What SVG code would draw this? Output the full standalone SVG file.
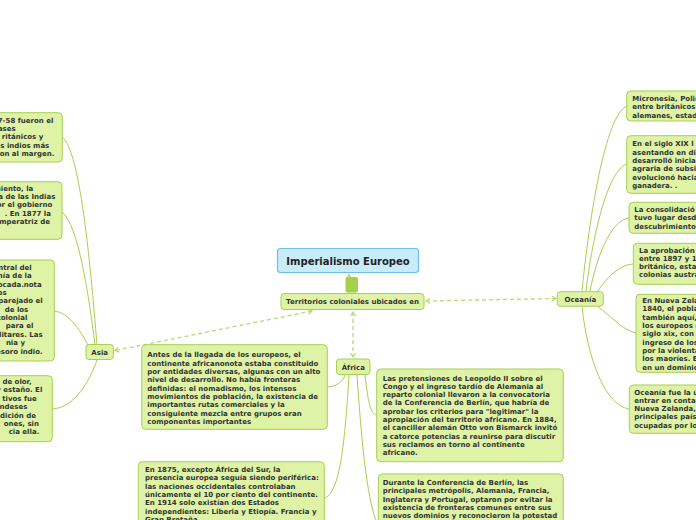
<svg xmlns="http://www.w3.org/2000/svg" width="696" height="520" viewBox="0 0 696 520">
<defs>
<style>
.box{fill:#def3a6;stroke:#a8cf50;stroke-width:1}
.t{font-family:"DejaVu Sans",Verdana,sans-serif;font-weight:bold;font-size:7px;fill:#333}
.tc{font-family:"DejaVu Sans",Verdana,sans-serif;font-weight:bold;font-size:7px;fill:#333;text-anchor:middle}
.te{font-family:"DejaVu Sans",Verdana,sans-serif;font-weight:bold;font-size:7px;fill:#333;text-anchor:end}
.c{fill:none;stroke:#a8cf50;stroke-width:1}
.d{fill:none;stroke:#b8db72;stroke-width:1.3;stroke-dasharray:4 3;marker-start:url(#ch);marker-end:url(#ch)}
</style>
<marker id="ch" viewBox="0 0 6 6" refX="5" refY="3" markerWidth="6" markerHeight="6" markerUnits="userSpaceOnUse" orient="auto-start-reverse">
<path d="M1,0.5 L5,3 L1,5.5" fill="none" stroke="#b8db72" stroke-width="1.2"/>
</marker>
</defs>
<rect width="696" height="520" fill="#ffffff"/>

<g id="connectors">
<path class="d" d="M312,311 L115,350.5"/>
<path class="d" d="M353,312 L353,357"/>
<path class="d" d="M426,301 L556,298.5"/>
<path d="M349,293 L349,274.5" fill="none" stroke="#b8db72" stroke-width="1.3" marker-end="url(#ch)"/>
<path class="c" d="M97,345 C90,260 80,150 62,137"/>
<path class="c" d="M95,345 C88,290 78,225 62,212"/>
<path class="c" d="M88,345 C80,330 68,312 54,311"/>
<path class="c" d="M97,360 C90,380 75,408 52,409"/>
<path class="c" d="M345,375 C343,382 335,387 327,387"/>
<path class="c" d="M349,375 C345,440 340,495 324,498"/>
<path class="c" d="M365,375 C368,400 370,415 377,415"/>
<path class="c" d="M357,375 C362,450 368,505 378,525"/>
<path class="c" d="M582,291 C589,220 605,115 627,106"/>
<path class="c" d="M586,291 C592,240 607,170 627,164"/>
<path class="c" d="M590,291 C596,260 610,220 629,218"/>
<path class="c" d="M598,291 C605,280 618,265 633,264"/>
<path class="c" d="M598,307 C610,315 622,330 636,333"/>
<path class="c" d="M582,307 C588,360 605,405 629,409"/>
</g>

<g id="main">
<rect x="277.5" y="248.5" width="141" height="24" rx="3" fill="#c9ecfb" stroke="#6cc0e8" stroke-width="1.2"/>
<text x="348" y="265" font-family="DejaVu Sans,Verdana,sans-serif" font-weight="bold" font-size="10" fill="#222" text-anchor="middle">Imperialismo Europeo</text>
</g>
<g id="handle">
<rect x="345.5" y="277" width="12.5" height="15.5" rx="2" fill="#a6cf4c"/>
</g>

<g id="territorios">
<rect class="box" x="281" y="293.5" width="143" height="16" rx="3"/>
<text class="tc" x="352.5" y="304.3">Territorios coloniales ubicados en</text>
</g>

<g id="asia">
<rect class="box" x="86" y="344.5" width="27.3" height="15" rx="3"/>
<text class="tc" x="99.7" y="354.7">Asia</text>
</g>

<g id="africa">
<rect class="box" x="336.5" y="359" width="33.5" height="15.5" rx="3"/>
<text class="tc" x="353.3" y="369.7">África</text>
</g>

<g id="oceania">
<rect class="box" x="557.3" y="291.7" width="46" height="14.5" rx="3"/>
<text class="tc" x="580.3" y="301.5">Oceanía</text>
</g>

<g id="asia1">
<rect class="box" x="-20" y="112.7" width="82.3" height="49.3" rx="4"/>
<text class="te" y="122.7"><tspan x="53.3">7-58 fueron el</tspan><tspan x="15.7" y="131">ases</tspan><tspan x="43.3" y="139.3">ritánicos y</tspan><tspan x="49.3" y="147.6">s indios más</tspan><tspan x="54.3" y="156">on al margen.</tspan></text>
</g>

<g id="asia2">
<rect class="box" x="-20" y="181.7" width="82" height="57.6" rx="4"/>
<text class="te" y="190.7"><tspan x="33.3">miento, la</tspan><tspan x="55.3" y="199">a de las Indias</tspan><tspan x="52.3" y="207.3">or el gobierno</tspan><tspan x="51" y="215.7">. En 1877 la</tspan><tspan x="50" y="224">emperatriz de</tspan></text>
</g>

<g id="asia3">
<rect class="box" x="-20" y="260" width="74.3" height="101" rx="4"/>
<text class="te" y="270"><tspan x="31.7">ntral del</tspan><tspan x="31.7" y="278.3">nía de la</tspan><tspan x="41.7" y="286.7">ocada.nota</tspan><tspan x="6.7" y="295">es</tspan><tspan x="42.7" y="303.3">parejado el</tspan><tspan x="28.3" y="311.7">de los</tspan><tspan x="27.3" y="320">colonial</tspan><tspan x="33.3" y="328.3">para el</tspan><tspan x="42.7" y="336.7">litares. Las</tspan><tspan x="25" y="345">nia y</tspan><tspan x="42.7" y="353.5">esoro indio.</tspan></text>
</g>

<g id="asia4">
<rect class="box" x="-20" y="375.7" width="72.3" height="66" rx="4"/>
<text class="te" y="384"><tspan x="31.7">de olor,</tspan><tspan x="42.3" y="392.3">y estaño. El</tspan><tspan x="36.7" y="400.7">tivos fue</tspan><tspan x="27.3" y="409">ndeses</tspan><tspan x="36" y="417.5">dición de</tspan><tspan x="39" y="425.8">ones, sin</tspan><tspan x="39.3" y="434.2">cia ella.</tspan></text>
</g>

<g id="africa1">
<rect class="box" x="141.7" y="344.7" width="185.6" height="84.6" rx="4"/>
<text class="t" x="147.3" y="357.3"><tspan x="147.3">Antes de la llegada de los europeos, el</tspan><tspan x="147.3" dy="8.33">continente africanonota estaba constituido</tspan><tspan x="147.3" dy="8.33">por entidades diversas, algunas con un alto</tspan><tspan x="147.3" dy="8.33">nivel de desarrollo. No había fronteras</tspan><tspan x="147.3" dy="8.33">definidas: el nomadismo, los intensos</tspan><tspan x="147.3" dy="8.33">movimientos de población, la existencia de</tspan><tspan x="147.3" dy="8.33">importantes rutas comerciales y la</tspan><tspan x="147.3" dy="8.33">consiguiente mezcla entre grupos eran</tspan><tspan x="147.3" dy="8.33">componentes importantes</tspan></text>
</g>

<g id="africa2">
<rect class="box" x="138.3" y="461.7" width="186" height="80" rx="4"/>
<text class="t" x="145" y="472"><tspan x="145">En 1875, excepto África del Sur, la</tspan><tspan x="145" dy="8.33">presencia europea seguía siendo periférica:</tspan><tspan x="145" dy="8.33">las naciones occidentales controlaban</tspan><tspan x="145" dy="8.33">únicamente el 10 por ciento del continente.</tspan><tspan x="145" dy="8.33">En 1914 solo existían dos Estados</tspan><tspan x="145" dy="8.33">independientes: Liberia y Etiopía. Francia y</tspan><tspan x="145" dy="8.33">Gran Bretaña</tspan></text>
</g>

<g id="africa3">
<rect class="box" x="376.7" y="369" width="186.6" height="92.7" rx="4"/>
<text class="t" x="382.7" y="380.5"><tspan x="382.7">Las pretensiones de Leopoldo II sobre el</tspan><tspan x="382.7" dy="8.33">Congo y el ingreso tardío de Alemania al</tspan><tspan x="382.7" dy="8.33">reparto colonial llevaron a la convocatoria</tspan><tspan x="382.7" dy="8.33">de la Conferencia de Berlín, que habría de</tspan><tspan x="382.7" dy="8.33">aprobar los criterios para "legitimar" la</tspan><tspan x="382.7" dy="8.33">apropiación del territorio africano. En 1884,</tspan><tspan x="382.7" dy="8.33">el canciller alemán Otto von Bismarck invitó</tspan><tspan x="382.7" dy="8.33">a catorce potencias a reunirse para discutir</tspan><tspan x="382.7" dy="8.33">sus reclamos en torno al continente</tspan><tspan x="382.7" dy="8.33">africano.</tspan></text>
</g>

<g id="africa4">
<rect class="box" x="378.3" y="474" width="185" height="80" rx="4"/>
<text class="t" x="382.7" y="485"><tspan x="382.7">Durante la Conferencia de Berlín, las</tspan><tspan x="382.7" dy="8.33">principales metrópolis, Alemania, Francia,</tspan><tspan x="382.7" dy="8.33">Inglaterra y Portugal, optaron por evitar la</tspan><tspan x="382.7" dy="8.33">existencia de fronteras comunes entre sus</tspan><tspan x="382.7" dy="8.33">nuevos dominios y reconocieron la potestad</tspan></text>
</g>

<g id="oceania1">
<rect class="box" x="626.7" y="91" width="100" height="30" rx="4"/>
<text class="t" x="632.3" y="101"><tspan x="632.3">Micronesia, Polin</tspan><tspan x="632.3" dy="8.33">entre británicos</tspan><tspan x="632.3" dy="8.33">alemanes, estad</tspan></text>
</g>

<g id="oceania2">
<rect class="box" x="626.7" y="135.7" width="100" height="57.6" rx="4"/>
<text class="t" x="632.3" y="146.3"><tspan x="632.3">En el siglo XIX l</tspan><tspan x="632.3" dy="8.33">asentando en di</tspan><tspan x="632.3" dy="8.33">desarrolló inicia</tspan><tspan x="632.3" dy="8.33">agraria de subsi</tspan><tspan x="632.3" dy="8.33">evolucionó hacia</tspan><tspan x="632.3" dy="8.33">ganadera. .</tspan></text>
</g>

<g id="oceania3">
<rect class="box" x="629" y="202.3" width="100" height="31" rx="4"/>
<text class="t" x="634.3" y="212"><tspan x="634.3">La consolidació</tspan><tspan x="634.3" dy="8.33">tuvo lugar desd</tspan><tspan x="634.3" dy="8.33">descubrimiento</tspan></text>
</g>

<g id="oceania4">
<rect class="box" x="633.3" y="243.3" width="100" height="41" rx="4"/>
<text class="t" x="639" y="252.5"><tspan x="639">La aprobación</tspan><tspan x="639" dy="8.33">entre 1897 y 1</tspan><tspan x="639" dy="8.33">británico, esta</tspan><tspan x="639" dy="8.33">colonias austra</tspan></text>
</g>

<g id="oceania5">
<rect class="box" x="636" y="294.3" width="100" height="78" rx="4"/>
<text class="t" x="642.3" y="303"><tspan x="642.3">En Nueva Zela</tspan><tspan x="642.3" dy="8.33">1840, el pobla</tspan><tspan x="642.3" dy="8.33">también aquí,</tspan><tspan x="642.3" dy="8.33">los europeos s</tspan><tspan x="642.3" dy="8.33">siglo xix, con</tspan><tspan x="642.3" dy="8.33">ingreso de los</tspan><tspan x="642.3" dy="8.33">por la violenta</tspan><tspan x="642.3" dy="8.33">los maoríes. E</tspan><tspan x="642.3" dy="8.33">en un dominio</tspan></text>
</g>

<g id="oceania6">
<rect class="box" x="629.3" y="385" width="100" height="48.3" rx="4"/>
<text class="t" x="634.3" y="394.5"><tspan x="634.3">Oceanía fue la ú</tspan><tspan x="634.3" dy="8.33">entrar en conta</tspan><tspan x="634.3" dy="8.33">Nueva Zelanda,</tspan><tspan x="634.3" dy="8.33">principales país</tspan><tspan x="634.3" dy="8.33">ocupadas por lo</tspan></text>
</g>
</svg>
